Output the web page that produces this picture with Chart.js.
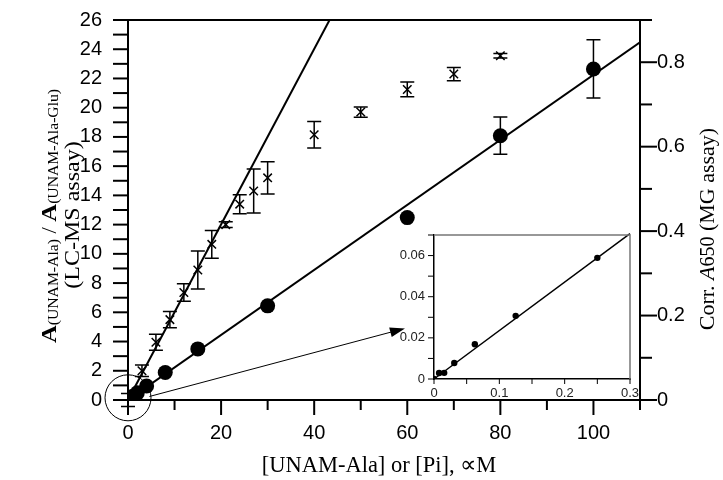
<!DOCTYPE html>
<html>
<head>
<meta charset="utf-8">
<script src="https://cdn.jsdelivr.net/npm/chart.js@4.4.0/dist/chart.umd.min.js"></script>
<style>
body { margin: 0; background: #fff; }
#wrap { position: relative; width: 723px; height: 480px; }
#main { position: absolute; left: 0; top: 0; }
#inset { position: absolute; left: 390px; top: 225px; }
</style>
</head>
<body>
<div id="wrap">
  <canvas id="main" width="723" height="480"></canvas>
  <canvas id="inset" width="252" height="177"></canvas>
</div>
<script>
// LC-MS assay (stars), left axis
const lcX = [0, 3, 6, 9, 12, 15, 18, 21, 24, 27, 30, 40, 50, 60, 70, 80];
const lcY = [0, 2.0, 3.95, 5.5, 7.35, 8.9, 10.65, 12.0, 13.4, 14.3, 15.2, 18.15, 19.7, 21.25, 22.3, 23.55];
const lcErr = [0.45, 0.4, 0.55, 0.55, 0.6, 1.3, 0.95, 0.2, 0.65, 1.5, 1.1, 0.9, 0.35, 0.5, 0.45, 0.15];
const lcFitX = [0, 43.3];
const lcFitY = [0, 26];

// MG assay (circles), right axis
const mgX = [0, 0.5, 1, 2, 4, 8, 15, 30, 60, 80, 100];
const mgY = [0, 0.004, 0.009, 0.017, 0.033, 0.065, 0.121, 0.223, 0.432, 0.626, 0.784];
const mgErr = [0, 0, 0, 0, 0, 0, 0, 0, 0, 0.044, 0.069];
const mgFitX = [0, 110];
const mgFitY = [0, 0.847];

// inset
const insX = [0, 0.0078, 0.0156, 0.031, 0.0625, 0.125, 0.25];
const insY = [0, 0.0029, 0.003, 0.0078, 0.0169, 0.0307, 0.0589];
const insFitX = [0, 0.3];
const insFitY = [0, 0.0707];

// tick labels
const xTicks = [0, 20, 40, 60, 80, 100];
const yTicks = [0, 2, 4, 6, 8, 10, 12, 14, 16, 18, 20, 22, 24, 26];
const y2Ticks = [0, 0.2, 0.4, 0.6, 0.8];
const insXTicks = [0, 0.1, 0.2, 0.3];
const insYTicks = [0, 0.02, 0.04, 0.06];

// annotations (data coords of main chart)
const zoomCircle = [0, 0.15];   // centre, radius in px below
const arrowFrom = [4.6, 0.24];
const arrowTo = [59.5, 4.9];

const sans = "'Liberation Sans', Arial, sans-serif";
const serif = "'Liberation Serif', 'Times New Roman', serif";

function pts(xs, ys) {
  return xs.map((x, i) => ({x: x, y: ys[i]}));
}

function fixTicks(vals) {
  return s => { s.ticks = vals.map(v => ({value: v})); };
}

// ticks drawn by hand so minor ticks can be shorter
const axisTicks = {
  id: 'axisTicks',
  afterDraw(chart, args, opts) {
    const ctx = chart.ctx;
    ctx.save();
    ctx.strokeStyle = '#000';
    for (const id in opts.scales) {
      const c = opts.scales[id];
      const sc = chart.scales[id];
      ctx.lineWidth = c.width;
      const n = Math.round((sc.max - sc.min) / c.step);
      for (let i = 0; i <= n; i++) {
        const p = sc.getPixelForValue(sc.min + i * c.step);
        const len = i % c.every === 0 ? c.major : c.minor;
        ctx.beginPath();
        if (sc.isHorizontal()) {
          ctx.moveTo(p, sc.top); ctx.lineTo(p, sc.top + len);
        } else if (sc.position === 'left') {
          ctx.moveTo(sc.right, p); ctx.lineTo(sc.right - len, p);
        } else {
          ctx.moveTo(sc.left, p); ctx.lineTo(sc.left + len, p);
        }
        ctx.stroke();
      }
    }
    ctx.restore();
  }
};

const errorBars = {
  id: 'errorBars',
  afterDatasetsDraw(chart) {
    const ctx = chart.ctx;
    ctx.save();
    ctx.strokeStyle = '#000';
    ctx.lineWidth = 1.5;
    chart.data.datasets.forEach((ds, di) => {
      if (!ds.errors) return;
      const meta = chart.getDatasetMeta(di);
      const ys = chart.scales[ds.yAxisID];
      meta.data.forEach((el, i) => {
        const e = ds.errors[i];
        if (!e) return;
        const y0 = ys.getPixelForValue(ds.data[i].y - e);
        const y1 = ys.getPixelForValue(ds.data[i].y + e);
        ctx.beginPath();
        ctx.moveTo(el.x, y0); ctx.lineTo(el.x, y1);
        ctx.moveTo(el.x - 7, y0); ctx.lineTo(el.x + 7, y0);
        ctx.moveTo(el.x - 7, y1); ctx.lineTo(el.x + 7, y1);
        ctx.stroke();
      });
    });
    ctx.restore();
  }
};

const frame = {
  id: 'frame',
  afterDraw(chart, args, opts) {
    const a = chart.chartArea;
    const ctx = chart.ctx;
    ctx.save();
    ctx.strokeStyle = opts.color;
    ctx.lineWidth = opts.width;
    ctx.beginPath();
    ctx.moveTo(a.left, a.top);
    ctx.lineTo(a.right, a.top);
    if (opts.right) ctx.lineTo(a.right, a.bottom);
    ctx.stroke();
    ctx.restore();
  }
};

// text made of several runs (bold, subscripts), sx stretches along the text
function richText(ctx, parts, cx, cy, rot, sx) {
  ctx.save();
  ctx.translate(cx, cy);
  ctx.rotate(rot);
  ctx.scale(sx || 1, 1);
  let w = 0;
  parts.forEach(p => { ctx.font = p.font; p.w = ctx.measureText(p.t).width; w += p.w; });
  let x = -w / 2;
  ctx.fillStyle = '#000';
  ctx.textBaseline = 'alphabetic';
  parts.forEach(p => { ctx.font = p.font; ctx.fillText(p.t, x, p.dy || 0); x += p.w; });
  ctx.restore();
}

const titles = {
  id: 'titles',
  afterDraw(chart) {
    const ctx = chart.ctx;
    const big = 'bold 22px ' + serif;
    const sub = '14px ' + serif;
    richText(ctx, [
      {t: 'A', font: big},
      {t: '(UNAM-Ala)', font: sub, dy: 2},
      {t: ' / ', font: '20px ' + serif},
      {t: 'A', font: big},
      {t: '(UNAM-Ala-Glu)', font: sub, dy: 2}
    ], 56, 216, -Math.PI / 2, 1.12);
    richText(ctx, [{t: '(LC-MS assay)', font: '20px ' + serif}], 79, 215, -Math.PI / 2, 1.2);
    richText(ctx, [
      {t: 'Corr. ', font: '22px ' + serif},
      {t: 'A', font: 'italic 22px ' + serif},
      {t: '650', font: '20px ' + serif},
      {t: ' (MG assay)', font: '22px ' + serif}
    ], 714, 229, -Math.PI / 2);
    richText(ctx, [{t: '[UNAM-Ala] or [Pi], \u221DM', font: '22.5px ' + serif}], 379, 472, 0);
  }
};

const marks = {
  id: 'marks',
  afterDraw(chart) {
    const ctx = chart.ctx;
    const xs = chart.scales.x, ys = chart.scales.y;
    ctx.save();
    ctx.strokeStyle = '#000';
    ctx.fillStyle = '#000';
    ctx.lineWidth = 1;
    ctx.beginPath();
    ctx.arc(xs.getPixelForValue(zoomCircle[0]), ys.getPixelForValue(zoomCircle[1]), 23, 0, Math.PI * 2);
    ctx.stroke();
    const x0 = xs.getPixelForValue(arrowFrom[0]), y0 = ys.getPixelForValue(arrowFrom[1]);
    const x1 = xs.getPixelForValue(arrowTo[0]), y1 = ys.getPixelForValue(arrowTo[1]);
    const ang = Math.atan2(y1 - y0, x1 - x0);
    ctx.beginPath();
    ctx.moveTo(x0, y0);
    ctx.lineTo(x1 - 12 * Math.cos(ang), y1 - 12 * Math.sin(ang));
    ctx.stroke();
    ctx.beginPath();
    ctx.moveTo(x1, y1);
    ctx.lineTo(x1 - 15 * Math.cos(ang) + 5 * Math.sin(ang), y1 - 15 * Math.sin(ang) - 5 * Math.cos(ang));
    ctx.lineTo(x1 - 15 * Math.cos(ang) - 5 * Math.sin(ang), y1 - 15 * Math.sin(ang) + 5 * Math.cos(ang));
    ctx.closePath();
    ctx.fill();
    ctx.restore();
  }
};

// tick marks are drawn by axisTicks; tickLength only moves the labels
function axisOpts(tickLen, bw, extra) {
  return Object.assign({
    type: 'linear',
    grid: {display: false, drawTicks: true, tickLength: tickLen},
    border: {display: true, color: '#000', width: bw}
  }, extra);
}

new Chart(document.getElementById('main'), {
  type: 'scatter',
  data: {
    datasets: [
      {
        data: pts(lcX, lcY), errors: lcErr, yAxisID: 'y',
        pointStyle: 'crossRot', pointRadius: 6, borderColor: '#000', borderWidth: 1.5
      },
      {
        type: 'line', data: pts(lcFitX, lcFitY), yAxisID: 'y',
        borderColor: '#000', borderWidth: 2, pointRadius: 0, fill: false
      },
      {
        data: pts(mgX, mgY), errors: mgErr, yAxisID: 'y2',
        pointStyle: 'circle', pointRadius: 7.5, backgroundColor: '#000', borderColor: '#000', borderWidth: 0
      },
      {
        type: 'line', data: pts(mgFitX, mgFitY), yAxisID: 'y2',
        borderColor: '#000', borderWidth: 2, pointRadius: 0, fill: false
      }
    ]
  },
  options: {
    responsive: false,
    animation: false,
    layout: {padding: {top: 20, left: 0, right: 0, bottom: 0}},
    plugins: {
      legend: {display: false},
      tooltip: {enabled: false},
      frame: {color: '#000', width: 2, right: false},
      axisTicks: {
        scales: {
          x: {step: 10, every: 2, major: 15, minor: 10, width: 2},
          y: {step: 1, every: 2, major: 15, minor: 15, width: 2},
          y2: {step: 0.1, every: 2, major: 17, minor: 12, width: 2}
        }
      }
    },
    scales: {
      x: axisOpts(19, 2, {
        min: 0, max: 110, position: 'bottom',
        ticks: {padding: 2, color: '#000', font: {family: sans, size: 20}, maxRotation: 0, autoSkip: false},
        afterBuildTicks: fixTicks(xTicks),
        afterFit: s => { s.height = 80; }
      }),
      y: axisOpts(24, 2, {
        min: 0, max: 26, position: 'left',
        ticks: {padding: 2, color: '#000', font: {family: sans, size: 20}, autoSkip: false},
        afterBuildTicks: fixTicks(yTicks),
        afterFit: s => { s.width = 128; }
      }),
      y2: axisOpts(15, 2, {
        min: 0, max: 0.9, position: 'right',
        ticks: {padding: 2, color: '#000', font: {family: sans, size: 20}, autoSkip: false,
          callback: v => (v === 0 ? '0' : v.toFixed(1))},
        afterBuildTicks: fixTicks(y2Ticks),
        afterFit: s => { s.width = 83; }
      })
    }
  },
  plugins: [errorBars, axisTicks, frame, titles, marks]
});

new Chart(document.getElementById('inset'), {
  type: 'scatter',
  data: {
    datasets: [
      {
        data: pts(insX, insY), pointStyle: 'circle', pointRadius: 3.2,
        backgroundColor: '#000', borderColor: '#000', borderWidth: 0
      },
      {
        type: 'line', data: pts(insFitX, insFitY),
        borderColor: '#000', borderWidth: 1.5, pointRadius: 0, fill: false, clip: 4
      }
    ]
  },
  options: {
    responsive: false,
    animation: false,
    layout: {padding: {top: 10, left: 0, right: 12, bottom: 0}},
    plugins: {
      legend: {display: false},
      tooltip: {enabled: false},
      frame: {color: '#777', width: 1.5, right: true},
      axisTicks: {
        scales: {
          x: {step: 0.05, every: 2, major: 5, minor: 5, width: 1},
          y: {step: 0.01, every: 2, major: 6, minor: 6, width: 1}
        }
      }
    },
    scales: {
      x: axisOpts(6, 1.5, {
        min: 0, max: 0.3,
        ticks: {padding: 1, color: '#222', font: {family: sans, size: 13}, maxRotation: 0, autoSkip: false,
          callback: v => (v === 0 ? '0' : v.toFixed(1))},
        afterBuildTicks: fixTicks(insXTicks),
        afterFit: s => { s.height = 23; }
      }),
      y: axisOpts(8, 1.5, {
        min: 0, max: 0.07,
        ticks: {padding: 1, color: '#222', font: {family: sans, size: 13}, autoSkip: false,
          callback: v => (v === 0 ? '0' : v.toFixed(2))},
        afterBuildTicks: fixTicks(insYTicks),
        afterFit: s => { s.width = 44; }
      })
    }
  },
  plugins: [axisTicks, frame]
});
</script>
</body>
</html>
